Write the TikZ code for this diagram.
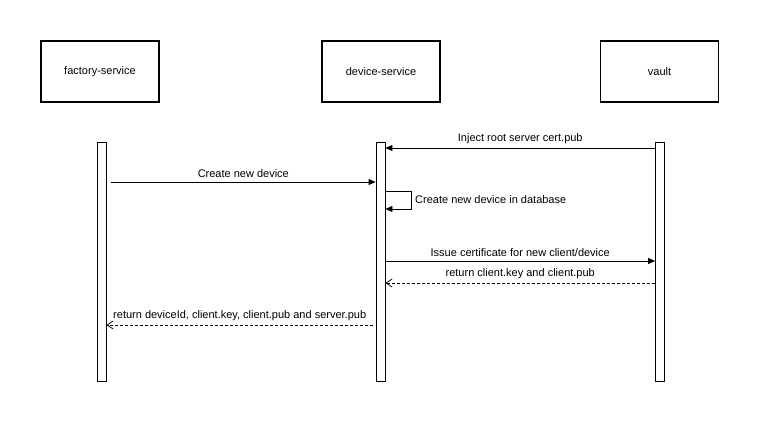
\documentclass[tikz,border=0pt]{standalone}
\usepackage{fontspec}
\setmainfont{Liberation Sans}
\usetikzlibrary{arrows.meta}
\begin{document}
\begin{tikzpicture}[x=1pt,y=-1pt,
  font=\fontsize{11}{13}\selectfont,
  actor/.style={draw,line width=1.3pt,minimum width=118pt,minimum height=61pt,inner sep=0pt},
  bar/.style={draw,line width=0.8pt,minimum width=9pt,minimum height=239pt,inner sep=0pt,fill=white},
  msg/.style={line width=0.8pt,-{Triangle[length=7pt,width=6pt]}},
  ret/.style={line width=0.8pt,dash pattern=on 3pt off 2pt,-{Straight Barb[length=6pt,width=8pt,line width=0.8pt]}},
  lbl/.style={inner sep=1pt,above=2.5pt}]
\useasboundingbox (0,0) rectangle (762,422);
\node[actor] (fs) at (100,71.5) {factory-service};
\node[actor] (ds) at (381,71.5) {device-service};
\node[actor] (va) at (659.5,71.5) {vault};
\node[bar] (fsb) at (101.5,261.5) {};
\node[bar] (dsb) at (380.5,261.5) {};
\node[bar] (vab) at (660,261.5) {};
% inject
\coordinate (i1) at (vab.west |- 0,148);
\coordinate (i2) at (dsb.east |- 0,148);
\draw[msg] (i1) -- node[lbl]{Inject root server cert.pub} (i2);
% create new device
\coordinate (c1) at (111,182);
\coordinate (c2) at (dsb.west |- 0,182);
\draw[msg] (c1) -- node[lbl]{Create new device} (c2);
% self loop
\coordinate (s1) at (dsb.east |- 0,191);
\coordinate (s2) at (411,191);
\coordinate (s3) at (411,209);
\coordinate (s4) at (dsb.east |- 0,209);
\draw[msg] (s1) -- (s2) -- (s3) -- (s4);
\node[inner sep=1pt,anchor=west] (sl) at (414,200) {Create new device in database};
% issue
\coordinate (q1) at (dsb.east |- 0,261);
\coordinate (q2) at (vab.west |- 0,261);
\draw[msg] (q1) -- node[lbl]{Issue certificate for new client/device} (q2);
% return client key
\coordinate (r1) at (vab.west |- 0,283);
\coordinate (r2) at (dsb.east |- 0,283);
\draw[ret] (r1) -- node[lbl]{return client.key and client.pub} (r2);
% return deviceId
\coordinate (d1) at (373,325);
\coordinate (d2) at (fsb.east |- 0,325);
\draw[ret] (d1) -- node[lbl]{return deviceId, client.key, client.pub and server.pub} (d2);
\end{tikzpicture}
\end{document}
